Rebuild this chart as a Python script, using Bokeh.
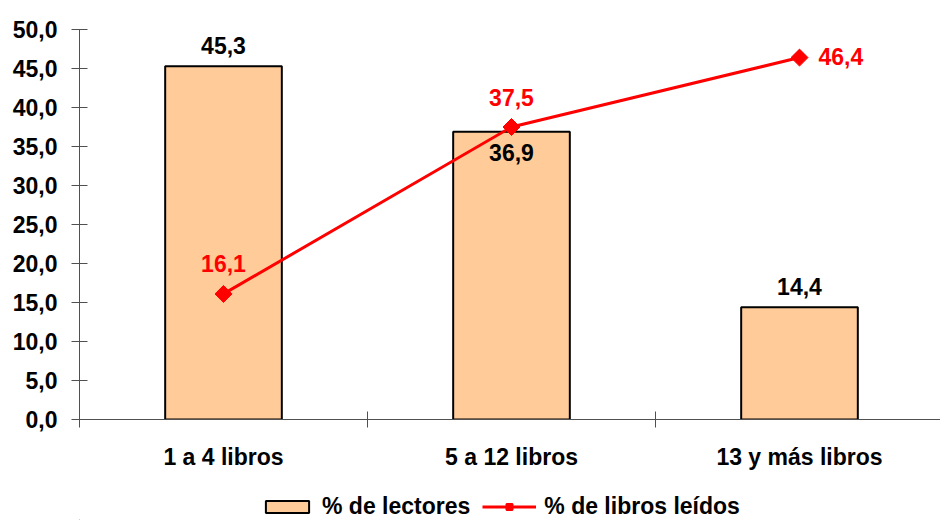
from bokeh.plotting import figure
from bokeh.models import Range1d, FixedTicker, Legend, LegendItem, ColumnDataSource
from bokeh.layouts import column
from bokeh.embed import file_html
from bokeh.resources import INLINE
from bokeh.core.properties import value
import numpy as np

categories = ["1 a 4 libros", "5 a 12 libros", "13 y más libros"]
lectores = [45.3, 36.9, 14.4]
libros_leidos = [16.1, 37.5, 46.4]
y_ticks = [0, 5, 10, 15, 20, 25, 30, 35, 40, 45, 50]
series_names = ["% de lectores", "% de libros leídos"]

def fmt(v):
    return f"{v:.1f}".replace(".", ",")

FONT = "Liberation Sans"
FS = "23px"
W = 940
H_MAIN, H_LEG = 494, 26
BL, BR, BT = 79, 0, 29
FRAME_H = 390
frame_w = W - BL - BR
px_per_cat = 288.0
BAR_COLOR = "#FFCC99"
LINE_COLOR = "#FF0000"

xs = list(range(len(categories)))
p = figure(width=W, height=H_MAIN, output_backend="svg", toolbar_location=None,
           x_range=Range1d(-0.5, -0.5 + frame_w / px_per_cat),
           y_range=Range1d(y_ticks[0], y_ticks[-1]),
           min_border_left=BL, min_border_right=BR, min_border_top=BT,
           min_border_bottom=H_MAIN - BT - FRAME_H)
p.outline_line_color = None
p.xgrid.visible = False
p.ygrid.visible = False
p.background_fill_color = "white"

bar_src = ColumnDataSource(dict(x=xs, y=lectores))
p.vbar(x="x", top="y", width=0.405, bottom=0, source=bar_src,
       fill_color=BAR_COLOR, line_color="black", line_width=2)

line_src = ColumnDataSource(dict(x=xs, y=libros_leidos))
p.line(x="x", y="y", source=line_src, line_color=LINE_COLOR, line_width=3)
p.scatter(x="x", y="y", source=line_src, marker="square", angle=np.pi / 4,
          size=12, fill_color=LINE_COLOR, line_color=LINE_COLOR)

lab_kw = dict(text_font=value(FONT), text_font_size=FS, text_font_style="bold",
              text_baseline="middle")

# bar labels
above = [0, 2]
below = [1]
p.text(x=[xs[i] for i in above], y=[lectores[i] for i in above],
       text=[fmt(lectores[i]) for i in above], text_align="center",
       y_offset=-21, text_color="black", **lab_kw)
p.text(x=[xs[i] for i in below], y=[lectores[i] for i in below],
       text=[fmt(lectores[i]) for i in below], text_align="center",
       y_offset=21, text_color="black", **lab_kw)

# line labels
l_above = [0, 1]
l_right = [2]
p.text(x=[xs[i] for i in l_above], y=[libros_leidos[i] for i in l_above],
       text=[fmt(libros_leidos[i]) for i in l_above], text_align="center",
       y_offset=-30, text_color=LINE_COLOR, **lab_kw)
p.text(x=[xs[i] for i in l_right], y=[libros_leidos[i] for i in l_right],
       text=[fmt(libros_leidos[i]) for i in l_right], text_align="left",
       x_offset=19, y_offset=-1, text_color=LINE_COLOR, **lab_kw)

# axes
ax_col = "#505050"
p.yaxis.ticker = FixedTicker(ticks=y_ticks)
p.yaxis.major_label_overrides = {t: fmt(t) for t in y_ticks}
p.yaxis.major_tick_in = 8
p.yaxis.major_tick_out = 8
p.yaxis.minor_tick_line_color = None
p.yaxis.axis_line_color = ax_col
p.yaxis.major_tick_line_color = ax_col
p.yaxis.major_label_standoff = 14
p.yaxis.major_label_text_font = FONT
p.yaxis.major_label_text_font_size = FS
p.yaxis.major_label_text_font_style = "bold"
p.yaxis.major_label_text_color = "black"

p.xaxis.ticker = FixedTicker(ticks=xs, minor_ticks=[i - 0.5 for i in range(len(xs) + 1)])
p.xaxis.major_label_overrides = {i: c for i, c in zip(xs, categories)}
p.xaxis.major_tick_line_color = None
p.xaxis.major_tick_in = 0
p.xaxis.major_tick_out = 0
p.xaxis.minor_tick_in = 8
p.xaxis.minor_tick_out = 8
p.xaxis.minor_tick_line_color = ax_col
p.xaxis.axis_line_color = ax_col
p.xaxis.major_label_standoff = 16
p.xaxis.major_label_text_font = FONT
p.xaxis.major_label_text_font_size = FS
p.xaxis.major_label_text_font_style = "bold"
p.xaxis.major_label_text_color = "black"

# legend strip
lg = figure(width=W, height=H_LEG, output_backend="svg", toolbar_location=None,
            x_range=Range1d(0, 1), y_range=Range1d(0, 1),
            x_axis_location=None, y_axis_location=None,
            min_border_left=0, min_border_right=0, min_border_top=0, min_border_bottom=0)
lg.outline_line_color = None
lg.xgrid.visible = False
lg.ygrid.visible = False
# legend-only renderers, placed outside the visible range
hidden = ColumnDataSource(dict(x=[-5], y=[-5]))
r_bar = lg.vbar(x="x", top="y", width=0.1, source=hidden,
                fill_color=BAR_COLOR, line_color="black", line_width=2)
r_line = lg.line(x="x", y="y", source=hidden, line_color=LINE_COLOR, line_width=3)
r_mk = lg.scatter(x="x", y="y", source=hidden, marker="square", angle=np.pi / 4,
                  size=12, fill_color=LINE_COLOR, line_color=LINE_COLOR, line_width=2)
legend = Legend(items=[LegendItem(label=series_names[0], renderers=[r_bar]),
                       LegendItem(label=series_names[1], renderers=[r_line, r_mk])],
                orientation="horizontal", location=(181, 0),
                label_text_font=FONT, label_text_font_size=FS,
                label_text_font_style="bold", label_text_color="black",
                glyph_width=54, glyph_height=15, label_standoff=8, spacing=12,
                padding=0, margin=0, border_line_color=None,
                background_fill_alpha=0)
lg.add_layout(legend, "center")

open("out.html", "w").write(file_html(column(p, lg, spacing=0), INLINE))
